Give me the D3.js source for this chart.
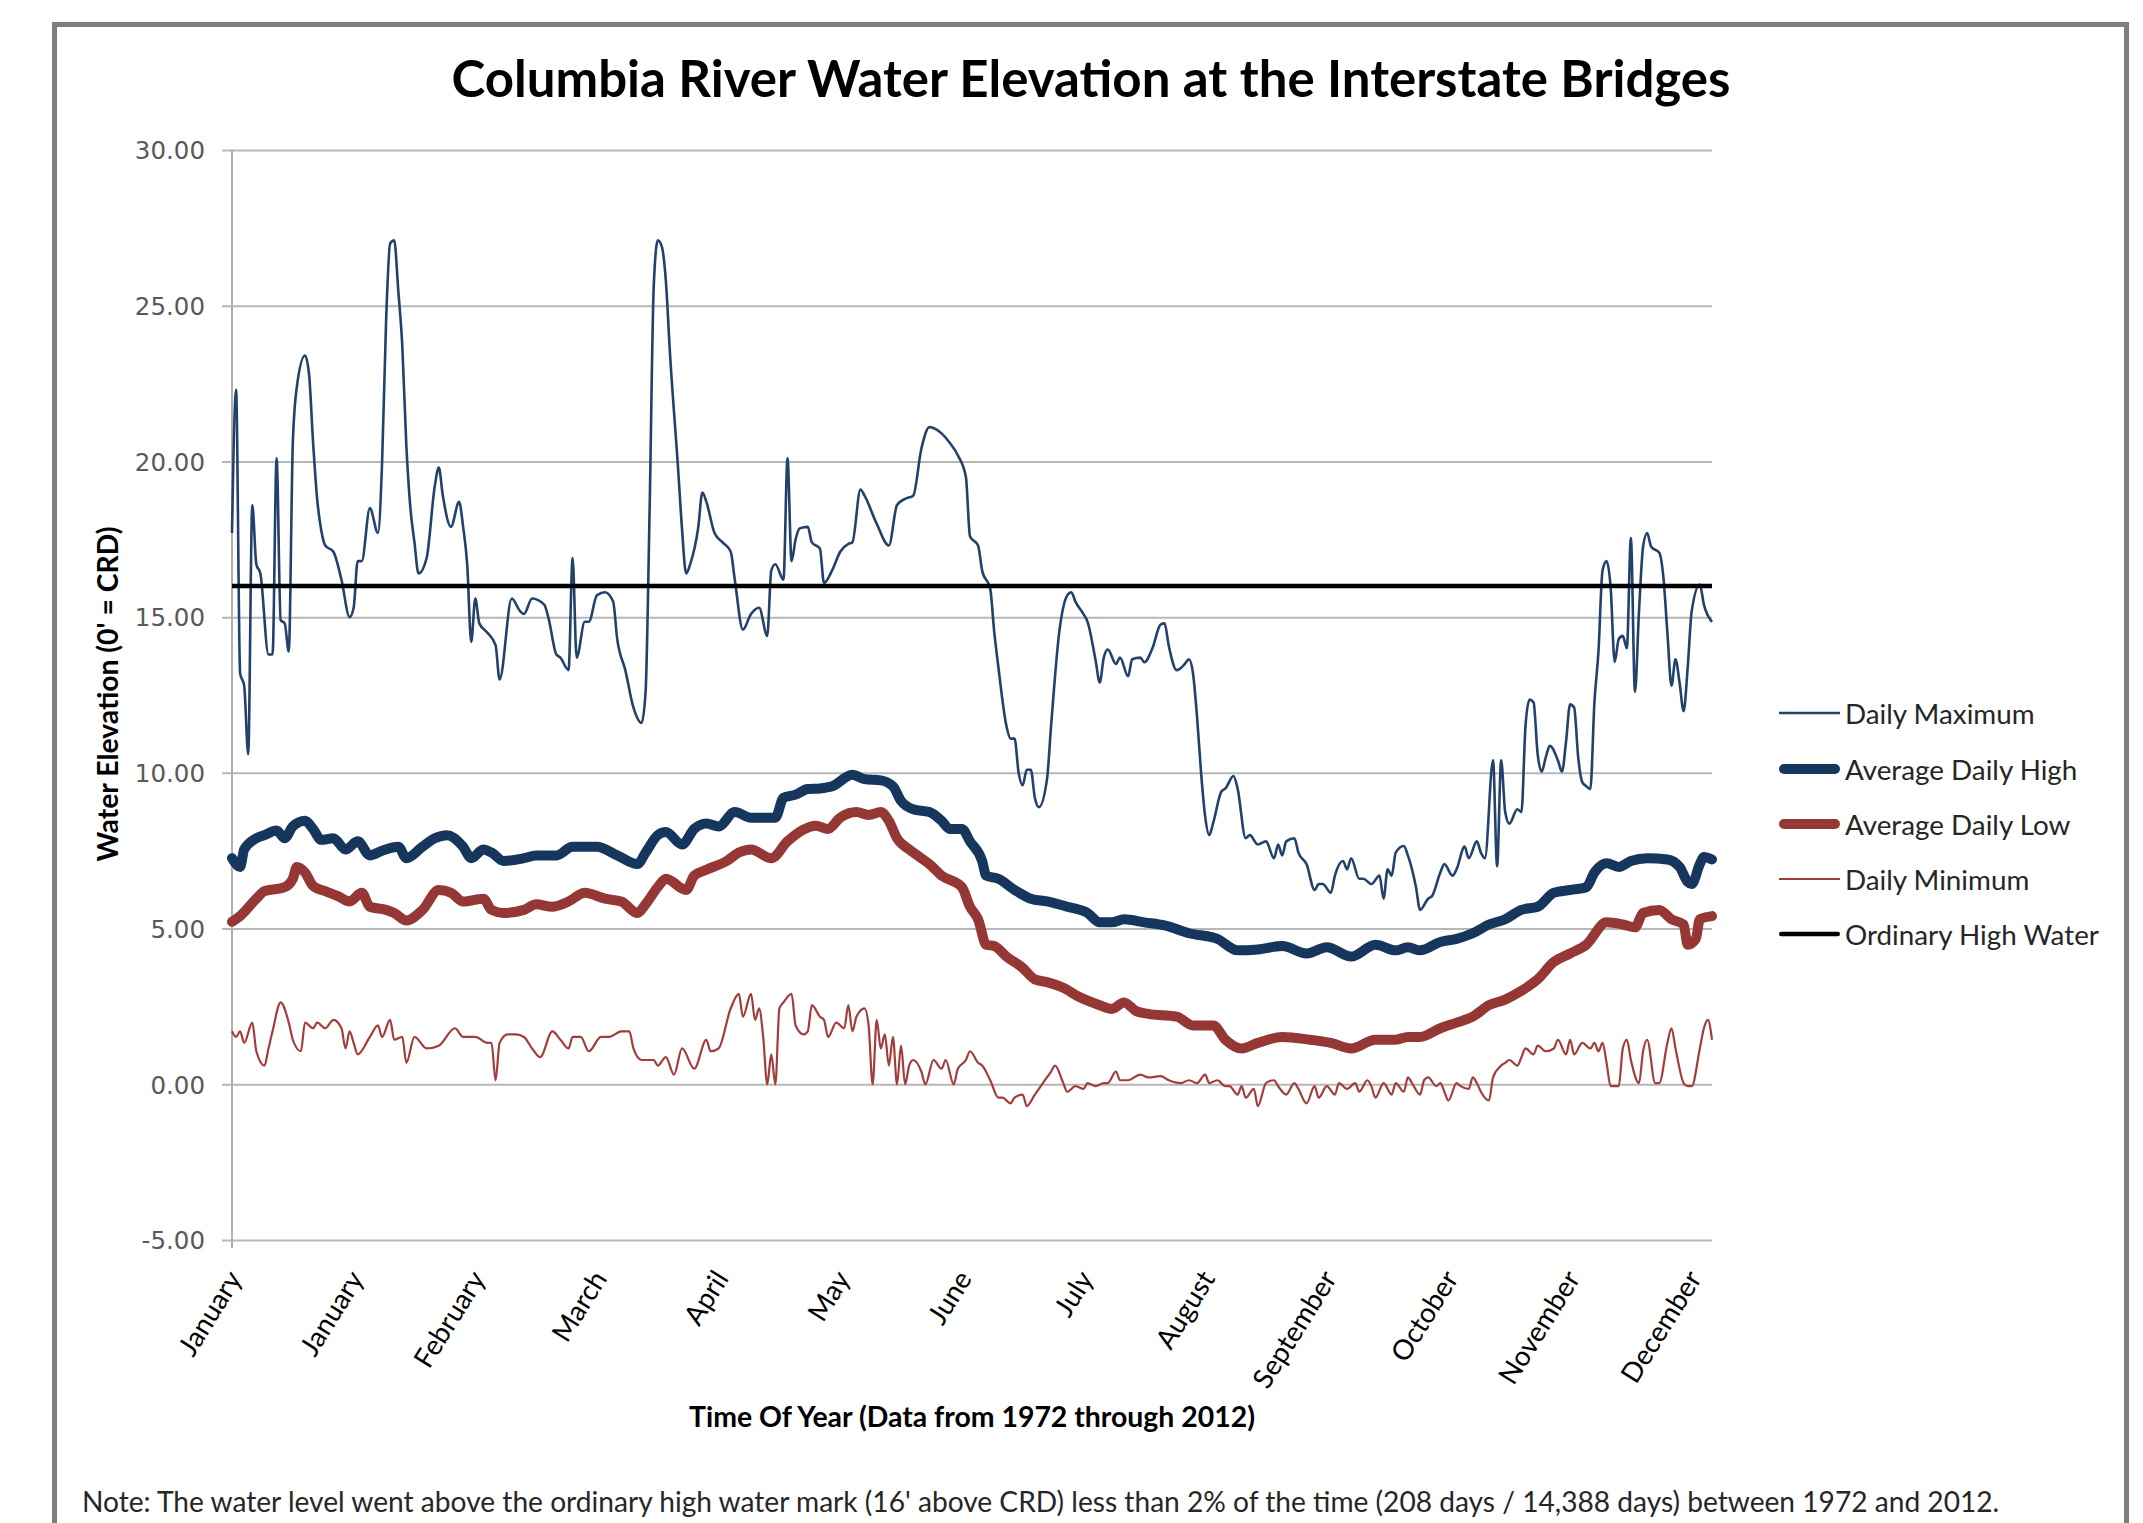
<!DOCTYPE html>
<html>
<head>
<meta charset="utf-8">
<script src="https://cdn.jsdelivr.net/npm/d3@7"></script>
<style>
  html, body { margin: 0; padding: 0; background: #ffffff; }
  svg { display: block; }
</style>
</head>
<body>
<svg id="chart" width="2143" height="1523"></svg>
<script>
// ---------------- DATA ----------------
const chartTitle = "Columbia River Water Elevation at the Interstate Bridges";
const yAxisTitle = "Water Elevation (0' = CRD)";
const xAxisTitle = "Time Of Year (Data from 1972 through 2012)";
const noteText = "Note: The water level went above the ordinary high water mark (16' above CRD) less than 2% of the time (208 days / 14,388 days) between 1972 and 2012.";

const dayCount = 366;                       // day-of-year index 0..365
const xTickDays = [0, 30, 60, 90, 120, 150, 180, 210, 240, 270, 300, 330, 360];
const xTickLabels = ["January", "January", "February", "March", "April", "May", "June",
                     "July", "August", "September", "October", "November", "December"];
const yTicks = [-5, 0, 5, 10, 15, 20, 25, 30];
const ordinaryHighWater = 16;

const seriesNames = ["Daily Maximum", "Average Daily High", "Average Daily Low", "Daily Minimum", "Ordinary High Water"];

// Daily Maximum (day index, value)
const maxDays = [0,1,2,3,4,5,6,7,9,10,11,12,13,14,15,16,18,19,20,21,22,23,25,27,29,30,31,32,34,36,37,38,39,40,41,42,43,44,45,46,48,50,51,52,54,56,57,58,59,60,61,63,65,66,69,71,72,74,77,78,80,81,83,84,85,87,88,90,92,94,95,97,99,101,102,103,104,105,106,107,108,110,111,112,113,115,116,117,119,121,123,124,126,128,130,132,133,134,136,137,138,139,140,142,143,145,146,148,150,152,153,155,156,159,162,164,166,168,170,172,175,177,179,181,182,184,185,187,188,189,191,192,193,194,195,196,197,198,199,201,202,204,206,207,208,210,211,213,214,215,216,218,219,221,222,224,225,227,229,230,231,233,235,236,237,238,239,240,241,242,244,245,247,248,250,251,253,255,257,258,259,260,262,263,265,267,268,269,271,272,274,275,276,278,279,281,283,284,285,286,287,289,290,292,293,295,296,298,299,301,302,304,305,307,308,309,311,312,313,314,315,317,318,319,320,321,322,323,324,325,327,328,329,330,331,332,333,334,335,336,337,338,339,340,341,342,343,344,345,346,347,348,349,350,352,353,354,355,356,357,358,359,360,362,363,365];
const maxVals = [17.7,22.3,13.2,12.8,10.6,18.6,16.7,16.4,13.8,13.8,20.1,14.9,14.8,13.9,20.6,22.4,23.4,22.8,20.6,18.8,17.8,17.3,17.1,16.2,15.0,15.3,16.8,16.8,18.5,17.7,19.9,24.5,27.0,27.1,25.5,23.7,20.5,18.5,17.4,16.4,16.9,19.2,19.8,18.9,17.9,18.7,17.9,16.7,14.2,15.6,14.8,14.5,14.1,13.0,15.6,15.2,15.1,15.6,15.4,15.0,13.8,13.7,13.3,16.9,13.7,14.85,14.85,15.7,15.8,15.5,14.3,13.3,12.1,11.6,12.6,18.5,25.6,27.1,26.9,25.8,23.5,19.8,17.8,16.4,16.7,17.9,19.0,18.7,17.7,17.4,17.1,16.2,14.6,15.1,15.3,14.4,16.5,16.7,16.2,20.1,16.8,17.5,17.85,17.9,17.4,17.2,16.1,16.5,17.1,17.35,17.4,19.1,18.9,18.0,17.3,18.6,18.8,18.9,20.4,21.1,20.9,20.6,20.2,19.5,17.6,17.3,16.5,15.9,14.5,13.4,11.5,11.1,11.1,10.0,9.6,10.1,10.1,9.2,8.9,9.8,11.5,14.5,15.7,15.8,15.5,15.1,14.85,13.6,12.9,13.7,13.96,13.5,13.7,13.1,13.65,13.7,13.55,14.0,14.76,14.8,14.1,13.3,13.5,13.65,13.2,11.8,10.0,8.6,8.0,8.4,9.4,9.5,9.9,9.5,7.9,8.0,7.7,7.8,7.26,7.7,7.35,7.8,7.9,7.44,7.07,6.24,6.43,6.43,6.15,6.7,7.17,6.9,7.26,6.6,6.6,6.43,6.7,5.96,6.9,6.7,7.44,7.65,7.35,6.33,5.6,5.96,6.05,6.8,7.07,6.7,6.9,7.63,7.26,7.8,7.44,7.26,10.4,7.0,10.4,8.74,8.37,8.83,8.74,11.5,12.35,12.26,10.6,10.04,10.5,10.87,10.4,10.04,11.0,12.2,12.1,10.5,9.7,9.57,9.48,12.26,13.9,16.5,16.8,15.96,13.56,14.3,14.4,14.0,17.54,12.6,15.2,17.26,17.7,17.26,17.07,16.3,14.5,12.8,13.65,12.9,11.98,13.37,15.2,16.05,15.4,14.85];

// Average Daily High
const highDays = [0,2,3,6,8,11,13,15,18,20,22,25,28,31,34,37,41,43,47,50,53,57,59,62,64,67,72,75,80,84,90,95,100,102,105,107,111,114,117,120,124,128,134,136,139,142,145,148,153,156,160,163,165,168,172,175,177,180,182,185,186,189,193,197,201,206,211,214,217,220,225,230,236,243,248,253,259,265,270,276,282,287,290,293,298,302,306,310,314,318,322,326,330,334,336,339,342,345,349,354,357,359,360,362,363,365];
const highVals = [7.26,6.98,7.54,7.9,8.0,8.15,7.9,8.28,8.46,8.2,7.85,7.9,7.54,7.8,7.35,7.5,7.63,7.26,7.63,7.9,8.0,7.63,7.26,7.54,7.44,7.17,7.26,7.35,7.35,7.63,7.63,7.35,7.07,7.44,8.0,8.1,7.7,8.2,8.37,8.28,8.74,8.56,8.56,9.2,9.3,9.48,9.5,9.57,9.94,9.8,9.76,9.57,9.1,8.83,8.74,8.46,8.2,8.2,7.8,7.17,6.7,6.6,6.24,5.96,5.87,5.7,5.5,5.2,5.2,5.3,5.2,5.1,4.85,4.67,4.3,4.33,4.44,4.2,4.4,4.1,4.48,4.3,4.4,4.3,4.57,4.67,4.85,5.13,5.3,5.6,5.7,6.15,6.24,6.33,6.8,7.1,6.98,7.17,7.26,7.22,6.98,6.5,6.43,7.07,7.3,7.22];

// Average Daily Low
const lowDays = [0,2,6,8,13,15,16,18,20,23,26,29,32,34,38,40,43,47,51,54,57,62,64,67,72,75,79,83,87,92,96,100,102,105,107,112,114,117,122,125,128,133,137,141,144,147,150,154,157,160,162,164,167,170,172,175,180,182,184,186,188,191,195,198,201,205,209,214,217,220,223,226,233,237,242,245,249,253,259,266,271,276,282,287,290,293,298,302,306,310,314,318,322,326,330,334,339,343,346,348,352,355,358,359,361,362,365];
const lowVals = [5.22,5.4,5.96,6.2,6.33,6.6,6.98,6.8,6.37,6.2,6.05,5.87,6.15,5.7,5.6,5.5,5.26,5.6,6.24,6.15,5.87,5.96,5.6,5.5,5.6,5.78,5.7,5.87,6.15,5.96,5.87,5.5,5.78,6.33,6.6,6.24,6.7,6.89,7.17,7.44,7.54,7.26,7.8,8.18,8.3,8.2,8.56,8.74,8.65,8.74,8.46,7.9,7.54,7.26,7.07,6.7,6.33,5.7,5.3,4.48,4.44,4.1,3.74,3.37,3.28,3.1,2.8,2.54,2.42,2.63,2.35,2.26,2.17,1.89,1.89,1.43,1.15,1.33,1.52,1.43,1.33,1.15,1.43,1.43,1.52,1.52,1.8,1.98,2.17,2.54,2.72,3.0,3.37,3.93,4.2,4.48,5.2,5.13,5.04,5.5,5.6,5.3,5.13,4.48,4.67,5.3,5.4];

// Daily Minimum
const minDays = [0,1,2,3,5,6,8,9,10,12,14,15,17,18,20,21,23,25,27,28,29,30,31,34,36,37,39,40,42,43,45,48,51,55,57,60,63,64,65,66,68,70,72,74,76,79,81,83,84,86,88,91,93,96,98,99,101,104,105,107,109,111,114,117,118,120,123,125,126,128,129,130,131,132,133,134,135,136,138,139,141,142,143,145,146,147,149,151,152,153,154,156,157,158,159,160,161,162,163,164,165,166,167,168,170,171,173,175,176,178,179,181,182,184,185,187,189,190,192,193,195,196,198,200,202,203,205,206,208,210,211,213,215,216,218,219,221,224,226,229,231,234,236,238,240,241,243,245,246,248,249,250,252,253,255,257,258,260,262,263,265,267,268,270,272,273,275,277,278,280,281,282,284,286,287,289,290,291,293,294,295,297,298,299,300,302,303,305,306,307,308,310,311,313,314,315,317,318,319,321,322,324,326,327,329,330,331,333,335,336,337,338,339,340,342,343,344,345,347,348,349,351,352,354,355,356,358,359,360,362,363,364,365];
const minVals = [1.7,1.52,1.7,1.33,1.98,1.06,0.6,1.15,1.7,2.63,1.98,1.43,1.06,1.98,1.8,1.98,1.8,2.07,1.8,1.15,1.7,1.33,0.96,1.52,1.89,1.52,2.07,1.43,1.52,0.69,1.52,1.15,1.24,1.8,1.52,1.52,1.33,1.33,0.13,1.33,1.6,1.6,1.52,1.15,0.87,1.7,1.43,1.15,1.52,1.52,1.06,1.52,1.52,1.7,1.7,1.15,0.78,0.78,0.6,0.87,0.31,1.15,0.5,1.43,1.06,1.15,2.44,2.9,2.17,2.9,2.07,2.44,1.52,0.0,0.96,0.0,2.44,2.63,2.9,1.89,1.6,1.7,2.54,2.17,2.07,1.52,1.98,1.8,2.54,1.7,2.17,2.44,1.89,0.0,2.07,1.15,1.6,0.6,1.52,0.0,1.24,0.0,0.6,0.78,0.41,0.0,0.78,0.5,0.78,0.0,0.5,0.78,1.06,0.69,0.6,0.13,-0.43,-0.43,-0.61,-0.43,-0.33,-0.7,-0.33,0.04,0.41,0.6,0.04,-0.24,-0.06,-0.15,0.04,-0.06,0.04,0.04,0.41,0.13,0.13,0.31,0.22,0.26,0.13,0.04,0.13,0.04,0.31,0.04,0.13,-0.06,-0.06,-0.33,-0.06,-0.43,-0.15,-0.7,0.04,0.13,-0.06,-0.33,0.04,-0.15,-0.61,-0.06,-0.43,-0.06,-0.33,0.04,-0.15,0.04,-0.24,0.13,-0.06,-0.43,0.04,-0.33,0.04,-0.24,0.22,0.04,-0.33,0.13,0.22,-0.06,0.04,-0.24,-0.52,0.04,-0.06,-0.15,0.22,0.04,-0.24,-0.52,0.22,0.6,0.69,0.78,0.6,0.87,1.15,0.96,1.24,1.06,1.15,1.43,0.96,1.43,0.96,1.33,1.15,1.33,1.06,1.33,0.69,-0.06,-0.06,1.15,1.43,0.78,0.04,1.06,1.43,0.04,0.04,1.33,1.8,1.15,0.04,-0.06,-0.06,1.15,1.8,2.07,1.43,2.07];

// ---------------- DRAWING ----------------
const svg = d3.select("#chart");
const FONT = "Lato, 'Open Sans', 'Liberation Sans', sans-serif";

const plot = { left: 232, right: 1712, top: 150, bottom: 1240 };
const x = d3.scaleLinear().domain([0, dayCount - 1]).range([plot.left, plot.right]);
const y = d3.scaleLinear().domain([-5, 30]).range([plot.bottom, plot.top]);

// frame
svg.append("rect").attr("x", 54.5).attr("y", 24.5).attr("width", 2072).attr("height", 1600)
  .attr("fill", "#ffffff").attr("stroke", "#7f7f7f").attr("stroke-width", 5);

function fitWidth(sel, target) {
  const w = sel.node().getComputedTextLength();
  const fs = parseFloat(sel.attr("font-size"));
  sel.attr("font-size", (fs * target / w).toFixed(2));
  return fs * target / w;
}

// title
const title = svg.append("text").attr("x", 1091).attr("y", 97).attr("text-anchor", "middle")
  .attr("font-family", FONT).attr("font-weight", "bold").attr("font-size", 44).attr("fill", "#000")
  .text(chartTitle);
fitWidth(title, 1279);

// gridlines via axis
const yAxis = d3.axisLeft(y).tickValues(yTicks).tickSize(plot.right - plot.left + 10)
  .tickFormat(d => d.toFixed(2));
const gy = svg.append("g").attr("transform", `translate(${plot.right},0)`).call(yAxis);
gy.select(".domain").remove();
gy.selectAll(".tick line").attr("stroke", "#b7b7b7").attr("stroke-width", 2);
gy.selectAll(".tick text").attr("x", -(plot.right - plot.left) - 27).attr("dy", "0.36em")
  .attr("font-family", "'DejaVu Sans', Verdana, sans-serif").attr("font-size", 24.5).attr("fill", "#595959");

// vertical axis line
svg.append("line").attr("x1", plot.left).attr("x2", plot.left).attr("y1", plot.top).attr("y2", plot.bottom + 8)
  .attr("stroke", "#b0b0b0").attr("stroke-width", 2);

// x tick labels
const gx = svg.append("g");
const xLabels = gx.selectAll("text").data(xTickDays).join("text")
  .attr("transform", d => `translate(${x(d) + 2},${plot.bottom + 33}) rotate(-58)`)
  .attr("text-anchor", "end").attr("dominant-baseline", "central")
  .attr("font-family", FONT).attr("font-style", "normal").attr("font-size", 28).attr("fill", "#000")
  .text((d, i) => xTickLabels[i]);
const sept = xLabels.filter((d, i) => xTickLabels[i] === "September");
const xfs = fitWidth(sept, 132);
xLabels.attr("font-size", xfs.toFixed(2));

// axis titles
const yt = svg.append("text").attr("transform", "translate(118,694) rotate(-90)").attr("text-anchor", "middle")
  .attr("font-family", FONT).attr("font-weight", "bold").attr("font-size", 28).attr("fill", "#000")
  .text(yAxisTitle);
fitWidth(yt, 335);
const xt = svg.append("text").attr("x", 972).attr("y", 1427).attr("text-anchor", "middle")
  .attr("font-family", FONT).attr("font-weight", "bold").attr("font-size", 28).attr("fill", "#000")
  .text(xAxisTitle);
fitWidth(xt, 566);

// lines
const mk = (days, vals) => days.map((d, i) => ({ d, v: vals[i] }));
const line = d3.line().x(p => x(p.d)).y(p => y(p.v)).curve(d3.curveMonotoneX);

const plotG = svg.append("g");
plotG.append("path").datum(mk(minDays, minVals)).attr("d", line)
  .attr("fill", "none").attr("stroke", "#a23d3b").attr("stroke-width", 2.2).attr("stroke-linejoin", "round");
plotG.append("path").datum(mk(lowDays, lowVals)).attr("d", line)
  .attr("fill", "none").attr("stroke", "#953735").attr("stroke-width", 10).attr("stroke-linejoin", "round").attr("stroke-linecap", "round");
plotG.append("path").datum(mk(highDays, highVals)).attr("d", line)
  .attr("fill", "none").attr("stroke", "#17365d").attr("stroke-width", 10).attr("stroke-linejoin", "round").attr("stroke-linecap", "round");
plotG.append("path").datum(mk(maxDays, maxVals)).attr("d", line)
  .attr("fill", "none").attr("stroke", "#23426b").attr("stroke-width", 2.6).attr("stroke-linejoin", "round");
plotG.append("line").attr("x1", x(0)).attr("x2", x(dayCount - 1))
  .attr("y1", y(ordinaryHighWater)).attr("y2", y(ordinaryHighWater))
  .attr("stroke", "#000").attr("stroke-width", 4.5);

// legend
const legendStyles = [
  { color: "#23426b", w: 2.6, cap: "butt" },
  { color: "#17365d", w: 10, cap: "round" },
  { color: "#953735", w: 10, cap: "round" },
  { color: "#a23d3b", w: 2.2, cap: "butt" },
  { color: "#000000", w: 4.5, cap: "round" }
];
const legY = [713, 769, 824, 879, 934];
const lg = svg.append("g");
seriesNames.forEach((name, i) => {
  const s = legendStyles[i];
  const inset = s.cap === "round" ? s.w / 2 : 0;
  lg.append("line").attr("x1", 1779 + inset).attr("x2", 1840 - inset).attr("y1", legY[i]).attr("y2", legY[i])
    .attr("stroke", s.color).attr("stroke-width", s.w).attr("stroke-linecap", s.cap);
});
const legTexts = lg.selectAll("text.leg").data(seriesNames).join("text").attr("class", "leg")
  .attr("x", 1845).attr("y", (d, i) => legY[i]).attr("dominant-baseline", "central")
  .attr("font-family", FONT).attr("font-size", 28).attr("fill", "#262626").text(d => d);
const ohw = legTexts.filter(d => d === "Ordinary High Water");
const lfs = fitWidth(ohw, 254);
legTexts.attr("font-size", lfs.toFixed(2));

// note
const note = svg.append("text").attr("x", 82).attr("y", 1512)
  .attr("font-family", FONT).attr("font-size", 28).attr("fill", "#262626").text(noteText);
fitWidth(note, 1918);
</script>
</body>
</html>
